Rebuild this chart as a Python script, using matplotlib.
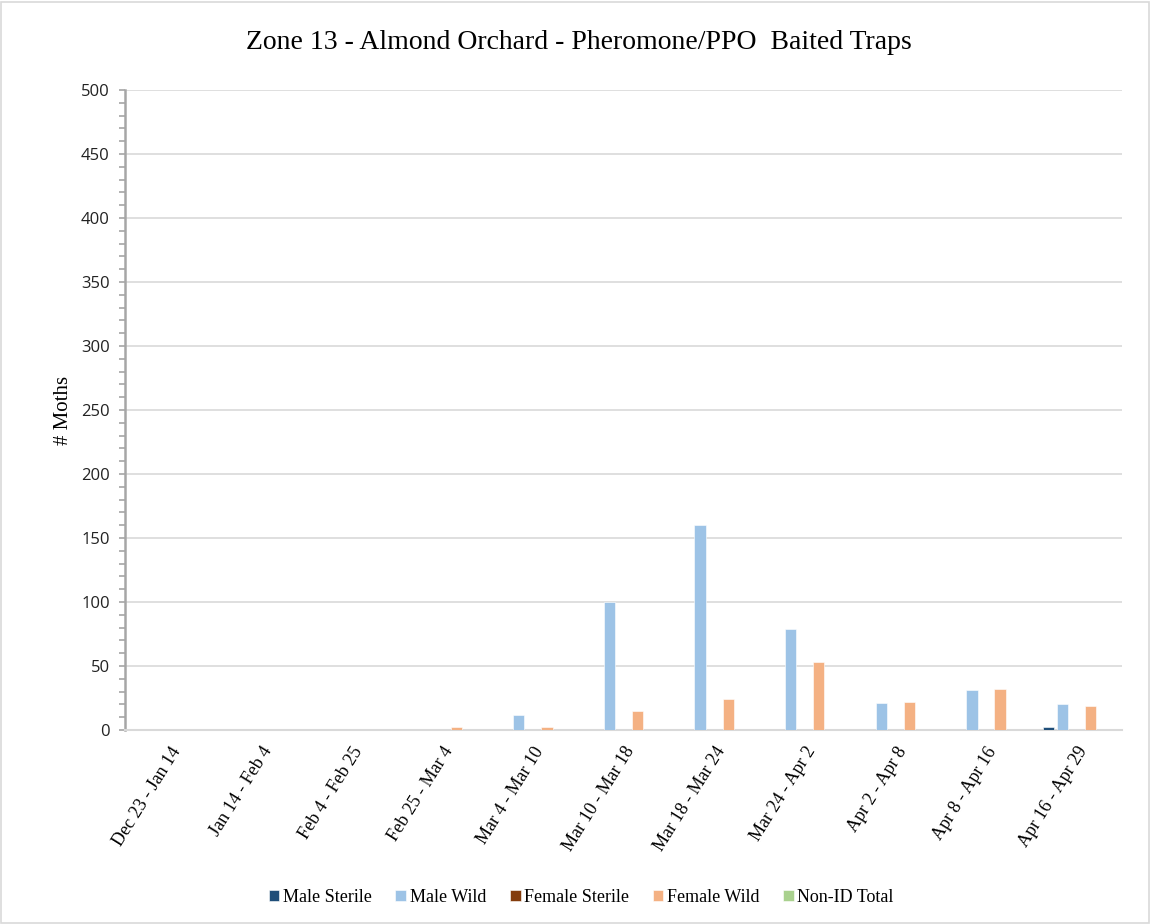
import numpy as np
import matplotlib
matplotlib.use('Agg')
import matplotlib.pyplot as plt
from matplotlib.ticker import MultipleLocator
from matplotlib.patches import Rectangle

# 数据
periods = ["Dec 23 - Jan 14", "Jan 14 - Feb 4", "Feb 4 - Feb 25", "Feb 25 - Mar 4",
           "Mar 4 - Mar 10", "Mar 10 - Mar 18", "Mar 18 - Mar 24", "Mar 24 - Apr 2",
           "Apr 2 - Apr 8", "Apr 8 - Apr 16", "Apr 16 - Apr 29"]
male_sterile = [0, 0, 0, 0, 0, 0, 0, 0, 0, 0, 2]
male_wild = [0, 0, 0, 0, 12, 100, 160, 79, 21, 31, 20]
female_sterile = [0, 0, 0, 0, 0, 0, 0, 0, 0, 0, 0]
female_wild = [0, 0, 0, 2, 2, 15, 24, 53, 22, 32, 19]
non_id_total = [0, 0, 0, 0, 0, 0, 0, 0, 0, 0, 0]

series_names = ["Male Sterile", "Male Wild", "Female Sterile", "Female Wild", "Non-ID Total"]
colors = ['#1F4E79', '#9DC3E6', '#843C0C', '#F4B183', '#A9D18E']

serif = ['Liberation Serif', 'DejaVu Serif']
sans = ['Open Sans', 'DejaVu Sans']

fig = plt.figure(figsize=(11.51, 9.24), dpi=100)
ax = fig.add_axes([0.1086, 0.2100, 0.8662, 0.6926])

x = np.arange(len(periods))
step = 0.155
width = 0.125
all_series = [male_sterile, male_wild, female_sterile, female_wild, non_id_total]
for i, (vals, name, c) in enumerate(zip(all_series, series_names, colors)):
    ax.bar(x + (i - 2) * step, vals, width, color=c, label=name,
           edgecolor='white', linewidth=0.4, zorder=3)

ax.set_xlim(-0.5, len(periods) - 0.5)
ax.set_ylim(0, 500)
ax.yaxis.set_major_locator(MultipleLocator(50))
ax.yaxis.set_minor_locator(MultipleLocator(10))
ax.grid(axis='y', color='#D9D9D9', linewidth=1.2, zorder=0)

for s in ['top', 'right']:
    ax.spines[s].set_visible(False)
ax.spines['left'].set_color('#A6A6A6')
ax.spines['left'].set_linewidth(1.8)
ax.spines['bottom'].set_color('#D9D9D9')
ax.spines['bottom'].set_linewidth(1.5)

ax.tick_params(axis='y', which='both', direction='out', color='#A6A6A6', width=1.2, length=4, pad=7)
ax.tick_params(axis='x', length=0, pad=10)

ax.set_xticks(x)
ax.set_xticklabels(periods, rotation=58, ha='right', rotation_mode='anchor',
                   family=serif, fontsize=13)
for lab in ax.get_yticklabels():
    lab.set_family(sans)
    lab.set_fontsize(12)
    lab.set_color('#222222')

ax.set_ylabel('# Moths', family=serif, fontsize=15)
ax.yaxis.set_label_coords(-0.052, 0.5)
fig.text(0.503, 0.9545, 'Zone 13 - Almond Orchard - Pheromone/PPO  Baited Traps', family=serif,
         fontsize=20, ha='center', va='center')

fig.legend(loc='center', bbox_to_anchor=(0.505, 0.029), ncol=5, frameon=False,
           prop={'family': serif, 'size': 13}, handlelength=0.6, handleheight=0.6,
           handletextpad=0.2, columnspacing=1.3)

# 外框
fig.patches.append(Rectangle((0.001, 0.001), 0.997, 0.997, transform=fig.transFigure,
                             fill=False, edgecolor='#D9D9D9', linewidth=1.2))

fig.savefig('out.png', dpi=100)
